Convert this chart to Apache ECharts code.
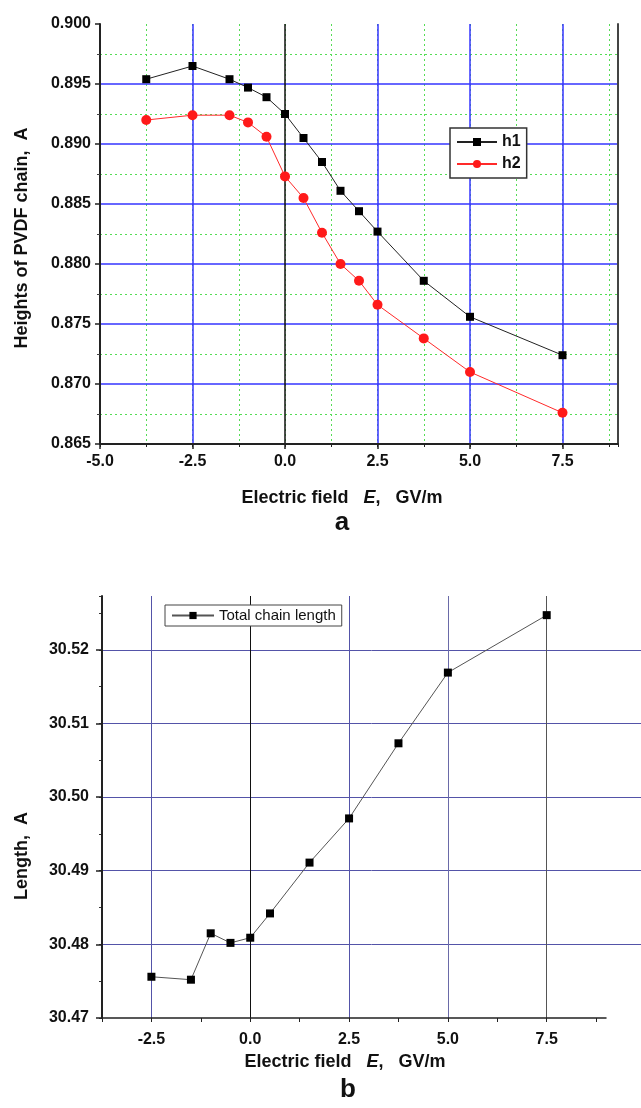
<!DOCTYPE html>
<html><head><meta charset="utf-8">
<script src="https://cdn.jsdelivr.net/npm/echarts@6/dist/echarts.min.js"></script>
<style>html,body{margin:0;padding:0;background:#fff}#c{width:641px;height:1108px}</style>
</head><body><div id="c"></div>
<script>
// ---- data (panel a) ----
const fieldA = [-3.75, -2.5, -1.5, -1.0, -0.5, 0, 0.5, 1.0, 1.5, 2.0, 2.5, 3.75, 5.0, 7.5];
const h1 = [0.8954, 0.8965, 0.8954, 0.8947, 0.8939, 0.8925, 0.8905, 0.8885, 0.8861, 0.8844, 0.8827, 0.8786, 0.8756, 0.8724];
const h2 = [0.8920, 0.8924, 0.8924, 0.8918, 0.8906, 0.8873, 0.8855, 0.8826, 0.8800, 0.8786, 0.8766, 0.8738, 0.8710, 0.8676];
// ---- data (panel b) ----
const fieldB = [-2.5, -1.5, -1.0, -0.5, 0, 0.5, 1.5, 2.5, 3.75, 5.0, 7.5];
const totalLength = [30.4756, 30.4752, 30.4815, 30.4802, 30.4809, 30.4842, 30.4911, 30.4971, 30.5073, 30.5169, 30.5247];
// ---- tick labels ----
const xTickLabelsA = ['-5.0', '-2.5', '0.0', '2.5', '5.0', '7.5'];
const xTickLabelsB = ['-2.5', '0.0', '2.5', '5.0', '7.5'];
const yTickLabelsA = ['0.865', '0.870', '0.875', '0.880', '0.885', '0.890', '0.895', '0.900'];
const yTickLabelsB = ['30.47', '30.48', '30.49', '30.50', '30.51', '30.52'];

const FONT = '"Liberation Sans", Arial, sans-serif';
const BLUE = '#3535ff';
const NAVY = '#5353a8';
const GREEN = '#55dd55';
const T = 'rgba(0,0,0,0)';

function pick(list) {
  return function (v) {
    for (const s of list) { if (Math.abs(parseFloat(s) - v) < 1e-6) return s; }
    return '';
  };
}
const pairs = (xs, ys) => xs.map((x, i) => [x, ys[i]]);

const chart = echarts.init(document.getElementById('c'), null, { renderer: 'canvas' });
const tickFont = { fontFamily: FONT, fontWeight: 'bold', fontSize: 16, color: '#111' };

chart.setOption({
  animation: false,
  backgroundColor: '#fff',
  grid: [
    { left: 100, top: 24, width: 518, height: 420 },
    { left: 102, top: 596, width: 504, height: 422 },
    { left: 102, top: 596, width: 539, height: 422 }  // horizontal grid lines of panel b run to the edge
  ],
  xAxis: [
    { // a primary
      gridIndex: 0, type: 'value', min: -5, max: 9, interval: 2.5, z: 3,
      axisLine: { show: true, onZero: false, lineStyle: { color: '#222', width: 2 } },
      axisTick: { show: true, inside: false, length: 5, lineStyle: { color: '#222', width: 1.5 } },
      axisLabel: Object.assign({ margin: 10, formatter: pick(xTickLabelsA), showMaxLabel: false }, tickFont),
      splitLine: { show: true, lineStyle: { width: 1.5, color: [T, BLUE, '#111', BLUE, BLUE, BLUE, T] } }
    },
    { // a minor grid
      gridIndex: 0, type: 'value', min: -5, max: 9, interval: 1.25, z: 1, position: 'bottom',
      axisLine: { show: false, onZero: false },
      axisTick: { show: true, inside: false, length: 3, lineStyle: { color: '#222', width: 1 } },
      axisLabel: { show: false },
      splitLine: { show: true, lineStyle: { color: GREEN, width: 1, type: [2, 3] } }
    },
    { // b
      gridIndex: 1, type: 'value', min: -3.75, max: 9, interval: 1.25, z: 3,
      axisLine: { show: true, onZero: false, lineStyle: { color: '#222', width: 1.5 } },
      axisTick: { show: true, inside: false, length: 4, lineStyle: { color: '#222', width: 1 } },
      axisLabel: Object.assign({ margin: 14, formatter: pick(xTickLabelsB), showMaxLabel: false }, tickFont),
      splitLine: { show: true, lineStyle: { width: 1, color: [T, NAVY, T, '#111', T, NAVY, T, '#6a6aa8', T, '#555', T, T] } }
    },
    { // b helper (hidden)
      gridIndex: 2, type: 'value', min: 0, max: 1, show: false
    }
  ],
  yAxis: [
    { // a left
      gridIndex: 0, type: 'value', min: 0.865, max: 0.9, interval: 0.005, z: 3, position: 'left',
      axisLine: { show: true, onZero: false, lineStyle: { color: '#222', width: 2 } },
      axisTick: { show: true, inside: false, length: 5, lineStyle: { color: '#222', width: 1.5 } },
      minorTick: { show: true, splitNumber: 2, length: 3, lineStyle: { color: '#444' } },
      axisLabel: Object.assign({ margin: 9, formatter: pick(yTickLabelsA) }, tickFont),
      splitLine: { show: true, lineStyle: { width: 1.5, color: [T, BLUE, BLUE, BLUE, BLUE, BLUE, BLUE, T] } },
      minorSplitLine: { show: true, lineStyle: { color: GREEN, width: 1, type: [2, 3] } }
    },
    { // a right border
      gridIndex: 0, type: 'value', min: 0.865, max: 0.9, position: 'right', z: 3,
      axisLine: { show: true, onZero: false, lineStyle: { color: '#444', width: 2 } },
      axisTick: { show: false }, axisLabel: { show: false }, splitLine: { show: false }
    },
    { // b left
      gridIndex: 1, type: 'value', min: 30.47, max: 30.5273, interval: 0.01, z: 3, position: 'left',
      axisLine: { show: true, onZero: false, lineStyle: { color: '#222', width: 2 } },
      axisTick: { show: true, inside: false, length: 6, lineStyle: { color: '#222', width: 1.5 } },
      axisLabel: Object.assign({ margin: 13, formatter: pick(yTickLabelsB), showMaxLabel: false }, tickFont),
      splitLine: { show: false }
    },
    { // b minor ticks
      gridIndex: 1, type: 'value', min: 30.47, max: 30.5273, interval: 0.005, z: 1, position: 'left', offset: 0,
      axisLine: { show: false, onZero: false },
      axisTick: { show: true, inside: false, length: 3, lineStyle: { color: '#333', width: 1 } },
      axisLabel: { show: false }, splitLine: { show: false }
    },
    { // b horizontal grid lines
      gridIndex: 2, type: 'value', min: 30.47, max: 30.5273, interval: 0.01, z: 1, position: 'left',
      axisLine: { show: false, onZero: false }, axisTick: { show: false }, axisLabel: { show: false },
      splitLine: { show: true, lineStyle: { width: 1, color: [T, NAVY, NAVY, NAVY, NAVY, NAVY, T] } }
    }
  ],
  legend: [
    {
      data: ['h1', 'h2'], orient: 'vertical', left: 450, top: 128,
      itemWidth: 40, itemHeight: 10, itemGap: 6,
      borderColor: '#333', borderWidth: 1.5, borderRadius: 0, padding: [6, 6, 6, 6],
      backgroundColor: '#fff',
      textStyle: { fontFamily: FONT, fontWeight: 'bold', fontSize: 16, color: '#111' }
    },
    {
      data: ['Total chain length'], left: 165, top: 605,
      itemWidth: 42, itemHeight: 9,
      borderColor: '#444', borderWidth: 1, borderRadius: 0, padding: [3, 6, 3, 6],
      backgroundColor: '#fff',
      textStyle: { fontFamily: FONT, fontSize: 15, color: '#111' }
    }
  ],
  series: [
    {
      name: 'h1', type: 'line', xAxisIndex: 0, yAxisIndex: 0, data: pairs(fieldA, h1),
      symbol: 'rect', symbolSize: 8, itemStyle: { color: '#000' },
      lineStyle: { color: '#222', width: 1 }, z: 5
    },
    {
      name: 'h2', type: 'line', xAxisIndex: 0, yAxisIndex: 0, data: pairs(fieldA, h2),
      symbol: 'circle', symbolSize: 10, itemStyle: { color: '#ff1a1a' },
      lineStyle: { color: '#ff2a2a', width: 1 }, z: 5
    },
    {
      name: 'Total chain length', type: 'line', xAxisIndex: 2, yAxisIndex: 2, data: pairs(fieldB, totalLength),
      symbol: 'rect', symbolSize: 8, itemStyle: { color: '#000' },
      lineStyle: { color: '#555', width: 1 }, z: 5
    }
  ],
  graphic: [
    {
      type: 'text', x: 22, y: 238, rotation: Math.PI / 2,
      style: { text: 'Heights of PVDF chain,  A', font: 'bold 18px ' + FONT, fill: '#111', align: 'center', verticalAlign: 'middle' }
    },
    {
      type: 'text', x: 342, y: 498,
      style: {
        text: '{n|Electric field   }{i|E}{n|,   GV/m}', align: 'center', verticalAlign: 'middle',
        rich: {
          n: { font: 'bold 18px ' + FONT, fill: '#111' },
          i: { font: 'italic bold 18px ' + FONT, fill: '#111' }
        }
      }
    },
    {
      type: 'text', x: 342, y: 523,
      style: { text: 'a', font: 'bold 26px ' + FONT, fill: '#111', align: 'center', verticalAlign: 'middle' }
    },
    {
      type: 'text', x: 22, y: 856, rotation: Math.PI / 2,
      style: { text: 'Length,  A', font: 'bold 18px ' + FONT, fill: '#111', align: 'center', verticalAlign: 'middle' }
    },
    {
      type: 'text', x: 345, y: 1062,
      style: {
        text: '{n|Electric field   }{i|E}{n|,   GV/m}', align: 'center', verticalAlign: 'middle',
        rich: {
          n: { font: 'bold 18px ' + FONT, fill: '#111' },
          i: { font: 'italic bold 18px ' + FONT, fill: '#111' }
        }
      }
    },
    {
      type: 'text', x: 348, y: 1090,
      style: { text: 'b', font: 'bold 26px ' + FONT, fill: '#111', align: 'center', verticalAlign: 'middle' }
    }
  ]
});
</script>
</body></html>
